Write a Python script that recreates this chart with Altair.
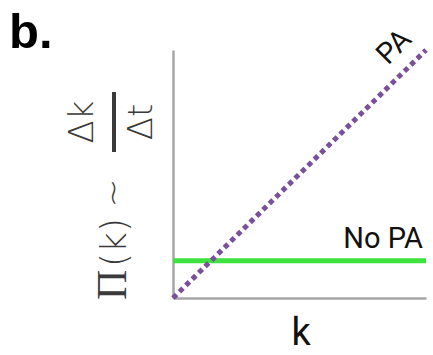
import altair as alt
import pandas as pd

# Schematic growth rate vs. degree: with and without preferential attachment
k_vals = [0.0, 1.0]
pa_rate = [0.0, 1.0]
no_pa_rate = [0.15, 0.15]

series_names = ["PA", "No PA"]

lines = pd.DataFrame({
    "k": k_vals + k_vals,
    "rate": pa_rate + no_pa_rate,
    "series": [series_names[0]] * 2 + [series_names[1]] * 2,
})

W, H = 253, 248
LEFT, TOP = 173, 50

x = alt.X("k:Q", scale=alt.Scale(domain=[0, 1], nice=False, zero=False),
          axis=alt.Axis(title=None, labels=False, ticks=False, grid=False,
                        domainColor="#a6a6a6", domainWidth=2.5))
y = alt.Y("rate:Q", scale=alt.Scale(domain=[0, 1], nice=False, zero=False),
          axis=alt.Axis(title=None, labels=False, ticks=False, grid=False,
                        domainColor="#a6a6a6", domainWidth=2.5))

base = alt.Chart(lines)

no_pa_line = base.transform_filter(alt.datum.series == "No PA").mark_line(
    color="#3ee23e", strokeWidth=5, strokeCap="butt"
).encode(x=x, y=y)

pa_line = base.transform_filter(alt.datum.series == "PA").mark_line(
    color="#7a4f9c", strokeWidth=5, strokeDash=[5, 4], strokeCap="butt"
).encode(x=x, y=y)


def label(text, px, py, **kw):
    return alt.Chart(pd.DataFrame({"t": [text]})).mark_text(**kw).encode(
        text="t:N", x=alt.value(px - LEFT), y=alt.value(py - TOP)
    )


pa_label = label("PA", 394, 47, angle=315, align="center", baseline="middle",
                 font="Roboto", fontSize=29, color="#111111")
no_pa_label = label("No PA", 423, 248, align="right", baseline="alphabetic",
                    font="Roboto", fontSize=29, color="#111111")
k_label = label("k", 301, 345, align="center", baseline="alphabetic",
                font="Roboto", fontSize=38, color="#111111")
panel_label = label("b.", 9, 48, align="left", baseline="alphabetic",
                    font="Liberation Sans", fontWeight="bold", fontSize=49,
                    color="#000000")

# Rotated y-axis title: Π(k) ~ Δk / Δt
pi_font = dict(font="Liberation Serif", fontSize=42, color="#3a3a3a",
               angle=270, baseline="alphabetic")
light_font = dict(font="DejaVu Sans", fontWeight=200, color="#3a3a3a",
                  angle=270, baseline="alphabetic")
pi_label = label("Π", 126, 300, align="left", **pi_font)
arg_label = label("(k)", 126, 267, align="left", fontSize=36, **light_font)
tilde_label = label("~", 124, 193, align="center", fontSize=34, **light_font)
num_label = label("Δk", 93, 122, align="center", fontSize=34, **light_font)
den_label = label("Δt", 152, 122, align="center", fontSize=34, **light_font)
frac_bar = alt.Chart(pd.DataFrame({"v": [0]})).mark_rule(
    color="#3a3a3a", strokeWidth=4
).encode(x=alt.value(114 - LEFT), y=alt.value(92 - TOP), y2=alt.value(152 - TOP))

chart = alt.layer(
    no_pa_line, pa_line, pa_label, no_pa_label, k_label, panel_label,
    pi_label, arg_label, tilde_label, num_label, den_label, frac_bar
).properties(
    width=W, height=H,
    padding={"left": LEFT, "top": TOP, "right": 433 - LEFT - W, "bottom": 355 - TOP - H},
    autosize=alt.AutoSizeParams(type="none"),
    background="white",
).configure_view(stroke=None)

chart.save("out.html", embed_options={"renderer": "svg", "actions": False})
